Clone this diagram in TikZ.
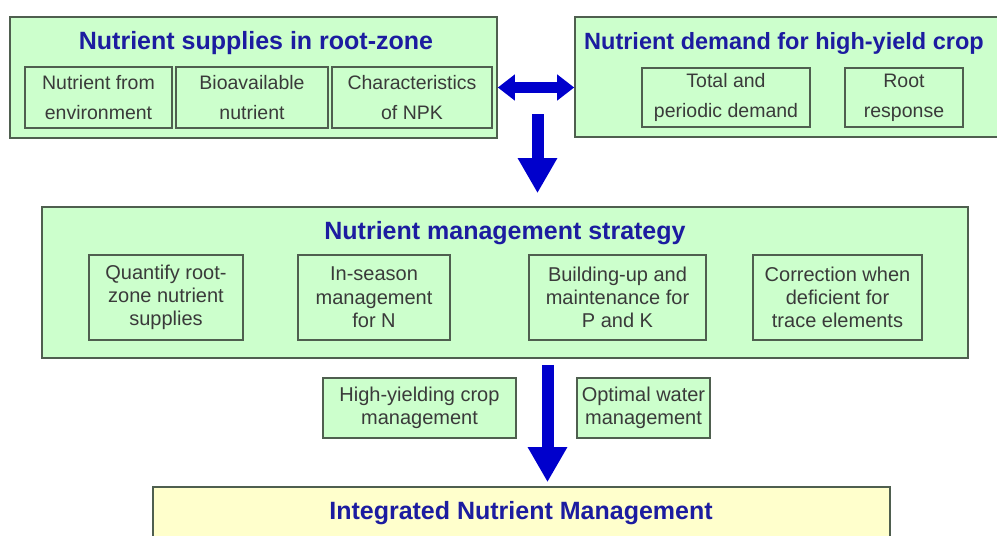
\documentclass[tikz,border=0pt]{standalone}
\usepackage{fontspec}
\setmainfont{Liberation Sans}
\usetikzlibrary{arrows.meta}
\definecolor{leaf}{HTML}{CCFFCC}
\definecolor{cream}{HTML}{FFFFCC}
\definecolor{edgegray}{HTML}{4F5F4F}
\definecolor{inkgray}{HTML}{3A3A3A}
\definecolor{navy}{HTML}{1C1CA0}
\definecolor{arrowblue}{HTML}{0000CC}

\begin{document}
\begin{tikzpicture}[x=1pt,y=-1pt,
  panel/.style={draw=edgegray, fill=leaf, line width=1.6pt, inner sep=0pt},
  subbox/.style={draw=edgegray, line width=1.2pt, inner sep=0pt, align=center,
    text=inkgray, font=\fontsize{19.5}{30}\selectfont},
  tightbox/.style={subbox, font=\fontsize{20}{23.3}\selectfont},
  heading/.style={inner sep=0pt, text=navy, font=\fontsize{25}{30}\selectfont\bfseries},
  bigarrow/.style={draw=arrowblue, line width=12pt, -{Triangle[width=37pt,length=35pt]}},
  linkarrow/.style={draw=arrowblue, line width=11pt, {Triangle[width=25pt,length=17pt]}-{Triangle[width=25pt,length=17pt]}}]

\useasboundingbox (0,0) rectangle (997,536);
\clip (0,0) rectangle (997,536);

% Supplies in root-zone
\node[panel, minimum width=487pt, minimum height=121pt] (supply) at (253.5,77.5) {};
\node[heading] (supplytitle) at (256,43) {Nutrient supplies in root-zone};
\node[subbox, minimum width=147pt, minimum height=61pt] (environment) at (98.5,97.5) {Nutrient from\\environment};
\node[subbox, minimum width=152pt, minimum height=61pt] (bioavail) at (252,97.5) {Bioavailable\\nutrient};
\node[subbox, minimum width=160pt, minimum height=61pt] (npk) at (412,97.5) {Characteristics\\of NPK};

% Demand of the crop
\node[panel, minimum width=485pt, minimum height=120pt] (demand) at (817.5,77) {};
\node[heading, anchor=west, font=\fontsize{23.5}{30}\selectfont\bfseries] (demandtitle) at (584,43) {Nutrient demand for high-yield crop};
\node[subbox, minimum width=168pt, minimum height=59pt] (periodic) at (726,97.5) {Total and\\periodic demand};
\node[subbox, minimum width=118pt, minimum height=59pt] (rootresp) at (904,97.5) {Root\\response};

% Strategy
\node[panel, minimum width=926pt, minimum height=151pt] (strategy) at (505,282.5) {};
\node[heading] (strategytitle) at (505,233) {Nutrient management strategy};
\node[tightbox, minimum width=154pt, minimum height=85pt] (quantify) at (166,297.5) {Quantify root-\\zone nutrient\\supplies};
\node[tightbox, minimum width=152pt, minimum height=85pt] (inseason) at (374,297.5) {In-season\\management\\for N};
\node[tightbox, minimum width=177pt, minimum height=85pt] (buildup) at (617.5,297.5) {Building-up and\\maintenance for\\P and K};
\node[tightbox, minimum width=169pt, minimum height=85pt] (correction) at (837.5,297.5) {Correction when\\deficient for\\trace elements};

% Side conditions
\node[tightbox, fill=leaf, minimum width=193pt, minimum height=60pt] (cropmgmt) at (419.5,408) {High-yielding crop\\management};
\node[tightbox, fill=leaf, minimum width=133pt, minimum height=60pt] (watermgmt) at (643.5,408) {Optimal water\\management};

% Result
\node[panel, fill=cream, minimum width=737pt, minimum height=110pt] (result) at (521.5,542) {};
\node[heading] (resulttitle) at (521,513) {Integrated Nutrient Management};

% Arrows
\coordinate (link) at (0,87.5);
\coordinate (drop) at (537.5,114);
\coordinate (feed) at (547.5,0);
\draw[linkarrow] (supply.east |- link) -- (demand.west |- link);
\draw[bigarrow, shorten >=13pt] (drop) -- (drop |- strategy.north);
\draw[bigarrow, shorten <=6pt, shorten >=4pt] (feed |- strategy.south) -- (feed |- result.north);

\end{tikzpicture}
\end{document}
